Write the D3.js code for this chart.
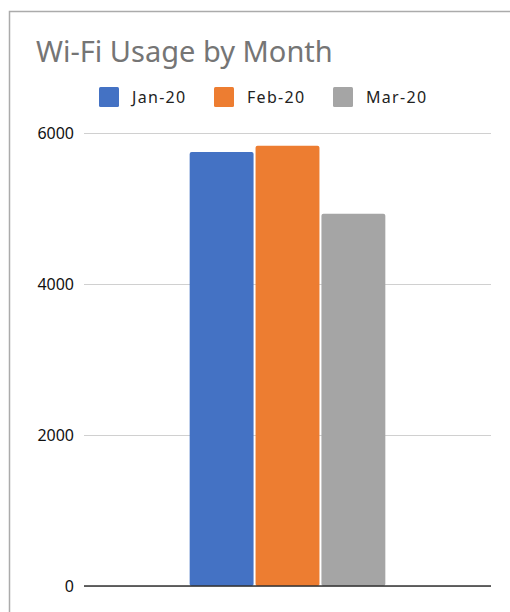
<!DOCTYPE html>
<html>
<head>
<meta charset="utf-8">
<script src="https://cdn.jsdelivr.net/npm/d3@7"></script>
<style>
  html, body { margin: 0; padding: 0; background: #fff; }
  svg { display: block; }
  .ylab { font-family: 'Noto Sans', 'Open Sans', sans-serif; font-size: 16px; fill: #111; }
</style>
</head>
<body>
<svg id="chart" width="510" height="612"></svg>
<script>
// Monthly Wi-Fi usage, one group with a bar per month
const categories = [""];
const seriesNames = ["Jan-20", "Feb-20", "Mar-20"];
const seriesValues = [5750, 5830, 4930];
const seriesColors = ["#4472c4", "#ed7d31", "#a5a5a5"];
const yTicks = [0, 2000, 4000, 6000];
const title = "Wi-Fi Usage by Month";

const svg = d3.select("#chart");
const font = "'Noto Sans', 'Open Sans', sans-serif";

// chart frame (runs off the right and bottom edges)
svg.append("rect")
  .attr("x", 9.5).attr("y", 11.5)
  .attr("width", 520).attr("height", 620)
  .attr("fill", "#fff")
  .attr("stroke", "#ababab").attr("stroke-width", 1.5);

const plot = { left: 84, right: 491, top: 133, bottom: 586 };

const y = d3.scaleLinear().domain([0, 6000]).range([plot.bottom, plot.top]);
const x0 = d3.scaleBand().domain(categories).range([plot.left, plot.right]).paddingOuter(0.54).paddingInner(0);
const x1 = d3.scaleBand().domain(seriesNames).range([0, x0.bandwidth()]).paddingInner(0.03).paddingOuter(0);

// gridlines
const yAxis = d3.axisLeft(y).tickValues(yTicks).tickSize(-(plot.right - plot.left)).tickFormat("");
const gAxis = svg.append("g").attr("transform", `translate(${plot.left},0)`).call(yAxis);
gAxis.select(".domain").remove();
gAxis.selectAll(".tick line").attr("stroke", "#d0d0d0").attr("stroke-width", 1.2);

// tick labels
svg.append("g").selectAll("text")
  .data(yTicks)
  .join("text")
  .attr("class", "ylab")
  .attr("x", plot.left - 10)
  .attr("y", d => y(d))
  .attr("dy", "0.35em")
  .attr("text-anchor", "end")
  .text(d => d3.format("d")(d));

// bars
const g = svg.append("g");
categories.forEach(c => {
  g.selectAll("rect.bar")
    .data(seriesValues.map((v, i) => ({ name: seriesNames[i], value: v, color: seriesColors[i] })))
    .join("rect")
    .attr("class", "bar")
    .attr("x", d => x0(c) + x1(d.name))
    .attr("y", d => y(d.value))
    .attr("width", x1.bandwidth())
    .attr("height", d => y(0) - y(d.value))
    .attr("rx", 2)
    .attr("fill", d => d.color);
});

// baseline
svg.append("line")
  .attr("x1", plot.left).attr("x2", plot.right)
  .attr("y1", y(0)).attr("y2", y(0))
  .attr("stroke", "#333").attr("stroke-width", 1.5);

// title
svg.append("text")
  .attr("x", 36).attr("y", 62)
  .style("font-family", font).style("font-size", "29px")
  .attr("fill", "#757575")
  .text(title);

// legend
const legendX = [99, 214, 333];
const leg = svg.append("g");
seriesNames.forEach((name, i) => {
  leg.append("rect")
    .attr("x", legendX[i]).attr("y", 87)
    .attr("width", 20).attr("height", 20).attr("rx", 1.5)
    .attr("fill", seriesColors[i]);
  leg.append("text")
    .attr("x", legendX[i] + 33).attr("y", 103)
    .style("font-family", font).style("font-size", "16px")
    .attr("letter-spacing", 1.3)
    .attr("fill", "#222")
    .text(name);
});
</script>
</body>
</html>
